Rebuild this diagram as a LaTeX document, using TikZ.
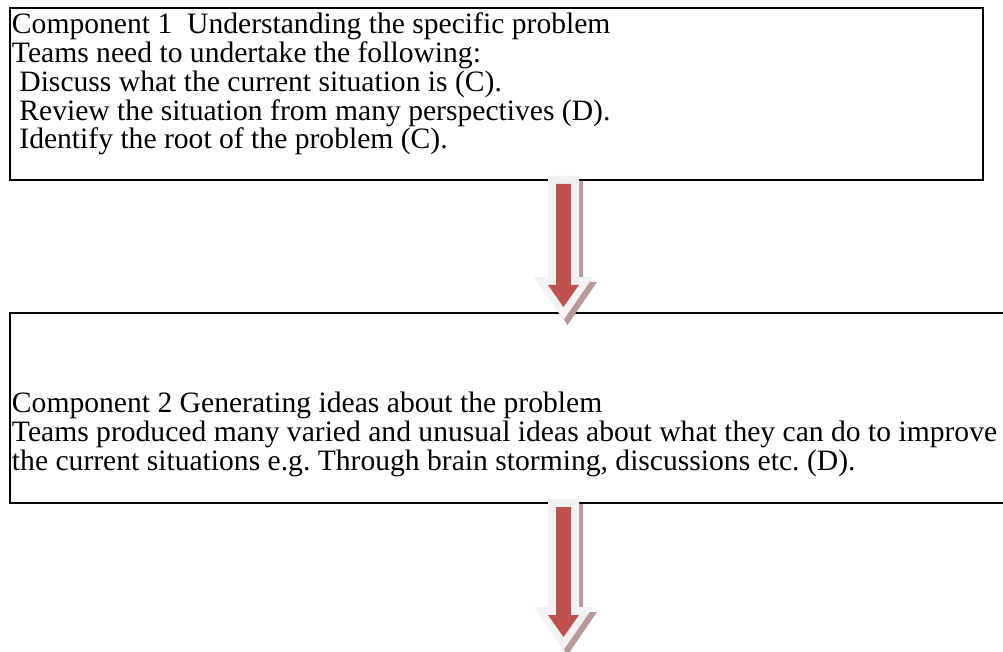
\documentclass[tikz,border=0pt]{standalone}
\usepackage{fontspec}
\setmainfont{Liberation Serif}
\frenchspacing
\definecolor{arrred}{HTML}{C0504D}
\definecolor{arrrim}{HTML}{F2F2F2}
\definecolor{arrshadow}{RGB}{185,152,152}
\newcommand\DrawBlockArrow[2]{%
  \begin{scope}[shift={(#1)}]
    \fill[arrshadow] (-11.5,5) -- (19.5,5) -- (19.5,#2+5) -- (33.5,#2+5) -- (4,#2+48) -- (-25.5,#2+5) -- (-11.5,#2+5) -- cycle;
    \fill[arrrim] (-15.5,0) -- (15.5,0) -- (15.5,#2) -- (29.5,#2) -- (0,#2+43) -- (-29.5,#2) -- (-15.5,#2) -- cycle;
    \fill[arrred] (-7.5,8) -- (7.5,8) -- (7.5,#2+8) -- (15.5,#2+8) -- (0,#2+30) -- (-15.5,#2+8) -- (-7.5,#2+8) -- cycle;
  \end{scope}}
\begin{document}
\lineskiplimit=-20pt
\begin{tikzpicture}[x=0.75pt,y=-0.75pt,
  box/.style={draw=black,line width=1.5pt,inner sep=0pt,outer sep=0pt,anchor=north west},
  txt/.style={inner sep=0pt,outer sep=0pt,anchor=base west,align=left,
    font={\fontsize{22.2pt}{21.7pt}\selectfont}}]
\clip (0,0) rectangle (1003,652);
\fill[white] (0,0) rectangle (1003,652);
% boxes
\node[box,minimum width=729.75pt,minimum height=129pt] (box1) at (10,8) {};
\node[box,minimum width=754pt,minimum height=142.5pt] (box2) at (10,313) {};
% texts (anchored at the baseline of their last line)
\node[txt] (t1) at (12,149) {Component 1\ \ Understanding the specific problem\\
Teams need to undertake the following:\\
~Discuss what the current situation is (C).\\
~Review the situation from many perspectives (D).\\
~Identify the root of the problem (C).};
\node[txt] (t2) at (12,470) {Component 2 Generating ideas about the problem\\
Teams produced many varied and unusual ideas about what they can do to improve\\
the current situations e.g. Through brain storming, discussions etc. (D).};
% block arrows
\coordinate (a1) at (563.5,176);
\coordinate (a2) at (563.5,499);
\DrawBlockArrow{a1}{101}
\DrawBlockArrow{a2}{108}
\end{tikzpicture}
\end{document}
